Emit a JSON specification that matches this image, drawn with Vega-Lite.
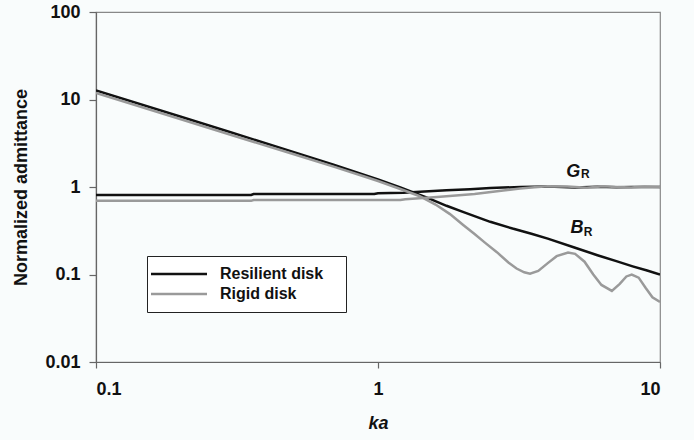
{
  "$schema": "https://vega.github.io/schema/vega-lite/v6.json",
  "width": 564,
  "height": 350,
  "autosize": "none",
  "padding": {"left": 96, "top": 12, "right": 34, "bottom": 78},
  "background": "#f9fcfc",
  "config": {
    "font": "Liberation Sans",
    "view": {"stroke": "#888", "strokeWidth": 1.2},
    "axis": {"grid": false, "domainColor": "#666", "tickColor": "#666", "domainWidth": 1.2, "tickWidth": 1.2, "labelFont": "Liberation Sans", "labelFontWeight": "bold", "labelFontSize": 18, "labelColor": "#111", "titleFont": "Liberation Sans", "titleFontWeight": "bold", "titleFontSize": 18, "titleColor": "#111"},
    "axisY": {"labelPadding": 9, "tickSize": 7}
  },
  "datasets": {
    "curves": [
      {"ka": 0.1, "v": 12.7, "disk": "Resilient disk", "q": "B"},
      {"ka": 0.2, "v": 6.35, "disk": "Resilient disk", "q": "B"},
      {"ka": 0.3, "v": 4.22, "disk": "Resilient disk", "q": "B"},
      {"ka": 0.5, "v": 2.52, "disk": "Resilient disk", "q": "B"},
      {"ka": 0.7, "v": 1.79, "disk": "Resilient disk", "q": "B"},
      {"ka": 1.0, "v": 1.22, "disk": "Resilient disk", "q": "B"},
      {"ka": 1.2, "v": 0.99, "disk": "Resilient disk", "q": "B"},
      {"ka": 1.5, "v": 0.75, "disk": "Resilient disk", "q": "B"},
      {"ka": 1.75, "v": 0.61, "disk": "Resilient disk", "q": "B"},
      {"ka": 2.0, "v": 0.52, "disk": "Resilient disk", "q": "B"},
      {"ka": 2.5, "v": 0.4, "disk": "Resilient disk", "q": "B"},
      {"ka": 3.0, "v": 0.335, "disk": "Resilient disk", "q": "B"},
      {"ka": 3.5, "v": 0.292, "disk": "Resilient disk", "q": "B"},
      {"ka": 4.0, "v": 0.257, "disk": "Resilient disk", "q": "B"},
      {"ka": 5.0, "v": 0.202, "disk": "Resilient disk", "q": "B"},
      {"ka": 6.0, "v": 0.166, "disk": "Resilient disk", "q": "B"},
      {"ka": 7.0, "v": 0.142, "disk": "Resilient disk", "q": "B"},
      {"ka": 8.0, "v": 0.124, "disk": "Resilient disk", "q": "B"},
      {"ka": 9.0, "v": 0.111, "disk": "Resilient disk", "q": "B"},
      {"ka": 10.0, "v": 0.1, "disk": "Resilient disk", "q": "B"},
      {"ka": 0.1, "v": 0.81, "disk": "Resilient disk", "q": "G"},
      {"ka": 0.355, "v": 0.81, "disk": "Resilient disk", "q": "G"},
      {"ka": 0.362, "v": 0.83, "disk": "Resilient disk", "q": "G"},
      {"ka": 0.97, "v": 0.83, "disk": "Resilient disk", "q": "G"},
      {"ka": 1.0, "v": 0.85, "disk": "Resilient disk", "q": "G"},
      {"ka": 1.23, "v": 0.86, "disk": "Resilient disk", "q": "G"},
      {"ka": 1.41, "v": 0.88, "disk": "Resilient disk", "q": "G"},
      {"ka": 1.75, "v": 0.92, "disk": "Resilient disk", "q": "G"},
      {"ka": 2.12, "v": 0.945, "disk": "Resilient disk", "q": "G"},
      {"ka": 2.5, "v": 0.975, "disk": "Resilient disk", "q": "G"},
      {"ka": 3.2, "v": 1.0, "disk": "Resilient disk", "q": "G"},
      {"ka": 4.0, "v": 1.01, "disk": "Resilient disk", "q": "G"},
      {"ka": 5.0, "v": 0.99, "disk": "Resilient disk", "q": "G"},
      {"ka": 6.0, "v": 1.005, "disk": "Resilient disk", "q": "G"},
      {"ka": 7.0, "v": 0.995, "disk": "Resilient disk", "q": "G"},
      {"ka": 8.0, "v": 1.0, "disk": "Resilient disk", "q": "G"},
      {"ka": 10.0, "v": 1.0, "disk": "Resilient disk", "q": "G"},
      {"ka": 0.1, "v": 11.9, "disk": "Rigid disk", "q": "B"},
      {"ka": 0.2, "v": 5.95, "disk": "Rigid disk", "q": "B"},
      {"ka": 0.3, "v": 3.96, "disk": "Rigid disk", "q": "B"},
      {"ka": 0.5, "v": 2.38, "disk": "Rigid disk", "q": "B"},
      {"ka": 0.7, "v": 1.7, "disk": "Rigid disk", "q": "B"},
      {"ka": 0.9, "v": 1.31, "disk": "Rigid disk", "q": "B"},
      {"ka": 1.0, "v": 1.17, "disk": "Rigid disk", "q": "B"},
      {"ka": 1.2, "v": 0.95, "disk": "Rigid disk", "q": "B"},
      {"ka": 1.4, "v": 0.79, "disk": "Rigid disk", "q": "B"},
      {"ka": 1.6, "v": 0.63, "disk": "Rigid disk", "q": "B"},
      {"ka": 1.8, "v": 0.49, "disk": "Rigid disk", "q": "B"},
      {"ka": 2.0, "v": 0.37, "disk": "Rigid disk", "q": "B"},
      {"ka": 2.2, "v": 0.29, "disk": "Rigid disk", "q": "B"},
      {"ka": 2.4, "v": 0.23, "disk": "Rigid disk", "q": "B"},
      {"ka": 2.64, "v": 0.18, "disk": "Rigid disk", "q": "B"},
      {"ka": 2.9, "v": 0.137, "disk": "Rigid disk", "q": "B"},
      {"ka": 3.1, "v": 0.117, "disk": "Rigid disk", "q": "B"},
      {"ka": 3.3, "v": 0.106, "disk": "Rigid disk", "q": "B"},
      {"ka": 3.46, "v": 0.102, "disk": "Rigid disk", "q": "B"},
      {"ka": 3.7, "v": 0.11, "disk": "Rigid disk", "q": "B"},
      {"ka": 4.0, "v": 0.135, "disk": "Rigid disk", "q": "B"},
      {"ka": 4.3, "v": 0.162, "disk": "Rigid disk", "q": "B"},
      {"ka": 4.72, "v": 0.178, "disk": "Rigid disk", "q": "B"},
      {"ka": 5.0, "v": 0.172, "disk": "Rigid disk", "q": "B"},
      {"ka": 5.4, "v": 0.14, "disk": "Rigid disk", "q": "B"},
      {"ka": 5.8, "v": 0.1, "disk": "Rigid disk", "q": "B"},
      {"ka": 6.2, "v": 0.076, "disk": "Rigid disk", "q": "B"},
      {"ka": 6.75, "v": 0.065, "disk": "Rigid disk", "q": "B"},
      {"ka": 7.2, "v": 0.078, "disk": "Rigid disk", "q": "B"},
      {"ka": 7.6, "v": 0.095, "disk": "Rigid disk", "q": "B"},
      {"ka": 7.94, "v": 0.1, "disk": "Rigid disk", "q": "B"},
      {"ka": 8.4, "v": 0.092, "disk": "Rigid disk", "q": "B"},
      {"ka": 8.9, "v": 0.07, "disk": "Rigid disk", "q": "B"},
      {"ka": 9.4, "v": 0.055, "disk": "Rigid disk", "q": "B"},
      {"ka": 10.0, "v": 0.0486, "disk": "Rigid disk", "q": "B"},
      {"ka": 0.1, "v": 0.695, "disk": "Rigid disk", "q": "G"},
      {"ka": 0.355, "v": 0.695, "disk": "Rigid disk", "q": "G"},
      {"ka": 0.362, "v": 0.71, "disk": "Rigid disk", "q": "G"},
      {"ka": 1.2, "v": 0.71, "disk": "Rigid disk", "q": "G"},
      {"ka": 1.25, "v": 0.725, "disk": "Rigid disk", "q": "G"},
      {"ka": 1.62, "v": 0.77, "disk": "Rigid disk", "q": "G"},
      {"ka": 2.2, "v": 0.83, "disk": "Rigid disk", "q": "G"},
      {"ka": 2.78, "v": 0.91, "disk": "Rigid disk", "q": "G"},
      {"ka": 3.19, "v": 0.96, "disk": "Rigid disk", "q": "G"},
      {"ka": 3.5, "v": 0.99, "disk": "Rigid disk", "q": "G"},
      {"ka": 4.0, "v": 1.02, "disk": "Rigid disk", "q": "G"},
      {"ka": 4.7, "v": 1.01, "disk": "Rigid disk", "q": "G"},
      {"ka": 5.5, "v": 0.98, "disk": "Rigid disk", "q": "G"},
      {"ka": 6.3, "v": 1.02, "disk": "Rigid disk", "q": "G"},
      {"ka": 7.0, "v": 1.0, "disk": "Rigid disk", "q": "G"},
      {"ka": 7.9, "v": 0.985, "disk": "Rigid disk", "q": "G"},
      {"ka": 8.8, "v": 1.01, "disk": "Rigid disk", "q": "G"},
      {"ka": 10.0, "v": 1.0, "disk": "Rigid disk", "q": "G"}
    ],
    "labels": [
      {"ka": 4.92, "v": 1.5, "t": "G", "kind": "main"},
      {"ka": 5.44, "v": 1.39, "t": "R", "kind": "sub"},
      {"ka": 5.08, "v": 0.343, "t": "B", "kind": "main"},
      {"ka": 5.56, "v": 0.309, "t": "R", "kind": "sub"}
    ]
  },
  "layer": [
    {
      "data": {"name": "curves"},
      "mark": {"type": "line", "strokeWidth": 2.5, "clip": true},
      "encoding": {
        "x": {"field": "ka", "type": "quantitative", "scale": {"type": "log", "domain": [0.1, 10], "nice": false}, "axis": {"values": [0.1, 1, 10], "format": "~g", "title": "ka", "titleFontStyle": "italic", "tickSize": 6, "labelPadding": 12, "titlePadding": 16}},
        "y": {"field": "v", "type": "quantitative", "scale": {"type": "log", "domain": [0.01, 100], "nice": false}, "axis": {"values": [0.01, 0.1, 1, 10, 100], "format": "~g", "title": "Normalized admittance", "labelPadding": 9, "titlePadding": 14}},
        "color": {"field": "disk", "type": "nominal", "scale": {"domain": ["Resilient disk", "Rigid disk"], "range": ["#111111", "#9a9a9a"]}, "legend": {"title": null, "orient": "none", "legendX": 51, "legendY": 244, "symbolType": "M-5,0H5", "symbolSize": 125.44, "symbolStrokeWidth": 2.5, "symbolOffset": 14, "labelFont": "Liberation Sans", "labelFontWeight": "bold", "labelFontSize": 16, "labelColor": "#111", "labelOffset": 33, "labelExpr": "datum.label + '\u2800'", "rowPadding": 4, "padding": 10, "strokeColor": "#222", "fillColor": "#ffffff"}},
        "detail": {"field": "q"},
        "order": {"field": "ka", "type": "quantitative"}
      }
    },
    {
      "data": {"name": "labels"},
      "transform": [{"filter": "datum.kind == 'main'"}],
      "mark": {"type": "text", "font": "Liberation Sans", "fontWeight": "bold", "fontStyle": "italic", "fontSize": 18, "color": "#111", "baseline": "middle", "align": "center"},
      "encoding": {
        "x": {"field": "ka", "type": "quantitative"},
        "y": {"field": "v", "type": "quantitative"},
        "text": {"field": "t"}
      }
    },
    {
      "data": {"name": "labels"},
      "transform": [{"filter": "datum.kind == 'sub'"}],
      "mark": {"type": "text", "font": "Liberation Sans", "fontWeight": "bold", "fontSize": 12, "color": "#111", "baseline": "middle", "align": "center"},
      "encoding": {
        "x": {"field": "ka", "type": "quantitative"},
        "y": {"field": "v", "type": "quantitative"},
        "text": {"field": "t"}
      }
    }
  ]
}
